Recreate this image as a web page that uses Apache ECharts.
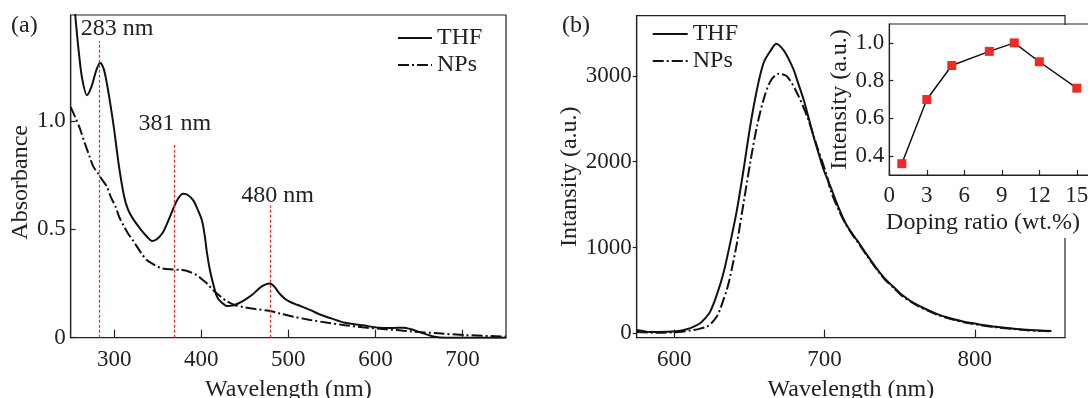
<!DOCTYPE html>
<html>
<head>
<meta charset="utf-8">
<script src="https://cdn.jsdelivr.net/npm/echarts@6/dist/echarts.min.js"></script>
<style>
  html, body { margin: 0; padding: 0; background: #fff; }
  #chart { width: 1088px; height: 398px; }
</style>
</head>
<body>
<div id="chart"></div>
<script>
// (a) absorbance, wavelength (nm) vs absorbance
const absThfX = [252, 255.2, 259, 263, 268.7, 274, 279, 283.8, 288, 291.7, 295.5, 299.6, 305.5, 311.5, 316, 321.4, 331.3, 338, 343.2, 348, 355.1, 361, 367, 373, 378.9, 384, 390.8, 396, 400.7, 404, 406.6, 410, 414.5, 418, 422.5, 430.4, 436, 442.3, 450, 458.1, 465, 470, 477.9, 483, 489.8, 496, 501.7, 510, 525.5, 537, 549.3, 565.1, 584.9, 604.8, 620, 632.5, 640, 650, 660.2, 668, 680, 750];
const absThfY = [1.62, 1.49, 1.33, 1.2, 1.12, 1.16, 1.23, 1.27, 1.24, 1.17, 1.08, 0.97, 0.79, 0.65, 0.59, 0.55, 0.496, 0.465, 0.447, 0.452, 0.481, 0.53, 0.588, 0.64, 0.665, 0.66, 0.634, 0.59, 0.542, 0.47, 0.389, 0.31, 0.235, 0.19, 0.166, 0.146, 0.148, 0.158, 0.175, 0.197, 0.222, 0.238, 0.25, 0.24, 0.204, 0.18, 0.166, 0.152, 0.127, 0.106, 0.089, 0.069, 0.058, 0.046, 0.045, 0.046, 0.04, 0.027, 0.013, 0.004, 0, 0];
const absNpX = [250, 255, 260, 266, 271.9, 276, 281.8, 286, 291.7, 296, 301.6, 306, 311.5, 316, 321.4, 331.3, 337, 343.2, 350, 355.1, 367, 375, 382.8, 389, 394.7, 400, 406.6, 414, 422.5, 430, 438.3, 450, 462.1, 477.9, 490, 505.7, 525, 545.3, 565, 584.9, 605, 624.6, 644.4, 672.1, 703.8, 750];
const absNpY = [1.065, 1.02, 0.972, 0.9, 0.834, 0.79, 0.757, 0.73, 0.696, 0.65, 0.604, 0.555, 0.512, 0.48, 0.45, 0.389, 0.36, 0.343, 0.328, 0.32, 0.315, 0.313, 0.309, 0.3, 0.289, 0.272, 0.25, 0.218, 0.189, 0.167, 0.151, 0.14, 0.132, 0.124, 0.112, 0.097, 0.082, 0.069, 0.058, 0.048, 0.041, 0.035, 0.028, 0.02, 0.012, 0.005];

// red guide lines and their labels
const peakLineX = [283, 369, 479];
const peakLineTop = [1.37, 0.89, 0.61];
const peakLabels = ['283 nm', '381 nm', '480 nm'];
const peakLabelX = [303.4, 369.7, 487.6];
const peakLabelY = [1.425, 0.99, 0.655];

// (b) emission, wavelength (nm) vs intensity
const plThfX = [575, 580, 584, 590, 599.4, 604, 608.3, 613, 617.2, 620.5, 623.9, 628.3, 632.7, 637.2, 641.7, 646.1, 650.5, 655, 659.4, 664, 668, 672.7, 676, 679.4, 682.7, 686.1, 689.4, 692.7, 696, 699.4, 703.9, 709, 714, 718.5, 723, 728, 734.5, 740, 746, 751, 757, 763, 769, 775, 780, 786, 792, 798, 803, 814, 826, 837, 851];
const plThfY = [41, 25, 17, 17, 21, 32, 49, 80, 119, 175, 254, 449, 701, 1051, 1439, 1906, 2410, 2838, 3149, 3290, 3372, 3300, 3200, 3071, 2900, 2721, 2510, 2294, 2100, 1906, 1711, 1480, 1282, 1160, 1050, 920, 760, 640, 540, 455, 380, 320, 270, 225, 195, 165, 140, 120, 105, 78, 55, 40, 28];
const plNpX = [575, 585, 592.7, 600, 605, 610.5, 616, 621.7, 625, 628.3, 630.5, 632.7, 635, 637.2, 641.7, 646.1, 650.5, 655, 659.4, 663.9, 669.4, 675, 681.7, 688.4, 695, 701.7, 703.9, 709, 714, 718.5, 723, 728, 734.5, 740, 746, 751, 757, 763, 769, 775, 780, 786, 792, 798, 803, 814, 826, 837, 851];
const plNpY = [15, 9, 9, 14, 20, 33, 50, 79, 125, 196, 280, 390, 510, 662, 1051, 1517, 1984, 2410, 2721, 2935, 3024, 2993, 2800, 2527, 2177, 1828, 1672, 1450, 1275, 1150, 1040, 910, 750, 630, 530, 445, 372, 312, 262, 218, 188, 158, 133, 113, 98, 72, 50, 35, 24];

// inset, doping ratio vs relative intensity
const dopingX = [1, 3, 5, 8, 10, 12, 15];
const dopingY = [0.36, 0.70, 0.88, 0.955, 1.0, 0.90, 0.76];

// tick labels
const absTicksX = [300, 400, 500, 600, 700];
const absTicksY = [0, 0.5, 1.0];
const plTicksX = [600, 700, 800];
const plTicksY = [0, 1000, 2000, 3000];
const insetTicksX = [0, 3, 6, 9, 12, 15];
const insetTicksY = [0.4, 0.6, 0.8, 1.0];

const zip = (xs, ys) => xs.map((x, i) => [x, ys[i]]);

const FONT = 'Liberation Serif';
const INK = '#222';
const RED = '#e62a2a';
const SOLID = {color: '#111', width: 2, type: 'solid'};
const DASHDOT = {color: '#111', width: 2, type: [11, 3, 2, 3]};
const nameStyle = (pad) => ({color: INK, fontSize: 24, fontFamily: FONT, padding: pad || 0});

function axisBase(ticks, fmt, inside, len, margin) {
  return {
    axisLine: {show: true, onZero: false, lineStyle: {color: INK, width: 1.2}},
    axisTick: {show: true, inside: inside, length: len, customValues: ticks, lineStyle: {color: INK, width: 1.2}},
    axisLabel: {customValues: ticks, formatter: fmt, margin: margin, color: INK, fontSize: 23, fontFamily: FONT},
    splitLine: {show: false},
    nameTextStyle: nameStyle()
  };
}

const chart = echarts.init(document.getElementById('chart'), null, {renderer: 'canvas'});

const legendBase = {
  orient: 'vertical', itemHeight: 14, itemGap: 3, padding: 0,
  data: ['THF', 'NPs'], selectedMode: false,
  itemStyle: {opacity: 0},
  textStyle: {color: INK, fontSize: 24, fontFamily: FONT}
};

const option = {
  animation: false,
  backgroundColor: '#fff',
  textStyle: {fontFamily: FONT, color: INK},
  grid: [
    {left: 70.7, top: 15, width: 435.3, height: 322.7, show: true, borderColor: INK, borderWidth: 1.2, outerBoundsMode: 'none'},
    {left: 636.7, top: 15.7, width: 428.3, height: 322, show: true, borderColor: INK, borderWidth: 1.2, outerBoundsMode: 'none'},
    {left: 889.3, top: 24, width: 212.5, height: 151, show: true, borderColor: INK, borderWidth: 1.2, z: 10, outerBoundsMode: 'none'}
  ],
  xAxis: [
    Object.assign(axisBase(absTicksX, v => String(v), true, 8, 11), {
      type: 'value', gridIndex: 0, min: 250, max: 750,
      name: 'Wavelength (nm)', nameLocation: 'middle', nameGap: 40
    }),
    Object.assign(axisBase(plTicksX, v => String(v), true, 8, 11), {
      type: 'value', gridIndex: 1, min: 575, max: 860,
      name: 'Wavelength (nm)', nameLocation: 'middle', nameGap: 40
    }),
    Object.assign(axisBase(insetTicksX, v => String(v), true, 5, 9), {
      type: 'value', gridIndex: 2, min: 0, max: 17, z: 10,
      name: 'Doping ratio (wt.%)', nameLocation: 'middle', nameGap: 36,
      nameTextStyle: nameStyle([0, 25, 0, 0])
    })
  ],
  yAxis: [
    Object.assign(axisBase(absTicksY, v => v === 0 ? '0' : v.toFixed(1), true, 5, 5), {
      type: 'value', gridIndex: 0, min: 0, max: 1.49,
      name: 'Absorbance', nameLocation: 'middle', nameGap: 38,
      nameTextStyle: nameStyle([0, 12, 0, 0])
    }),
    Object.assign(axisBase(plTicksY, v => String(v), false, 4, 5), {
      type: 'value', gridIndex: 1, min: -50, max: 3700,
      name: 'Intansity (a.u.)', nameLocation: 'middle', nameGap: 54
    }),
    Object.assign(axisBase(insetTicksY, v => v.toFixed(1), true, 4, 5), {
      type: 'value', gridIndex: 2, min: 0.3, max: 1.1, z: 10,
      name: 'Intensity (a.u.)', nameLocation: 'middle', nameGap: 35
    })
  ],
  legend: [
    Object.assign({}, legendBase, {left: 397, top: 26, itemWidth: 34}),
    Object.assign({}, legendBase, {left: 651.7, top: 22, itemWidth: 35})
  ],
  graphic: [
    {type: 'text', left: 11, top: 14, style: {text: '(a)', fill: INK, font: '24px "Liberation Serif"'}},
    {type: 'text', left: 562, top: 14, style: {text: '(b)', fill: INK, font: '24px "Liberation Serif"'}},
    {type: 'rect', z: 5, shape: {x: 856, y: 25, width: 232, height: 213}, style: {fill: '#fff'}}
  ],
  series: [
    {
      name: 'THF', type: 'line', xAxisIndex: 0, yAxisIndex: 0, showSymbol: false, symbol: 'none',
      smooth: 0.3, data: zip(absThfX, absThfY), lineStyle: SOLID, itemStyle: {color: '#111'},
      markLine: {
        silent: true, symbol: ['none', 'none'],
        lineStyle: {color: RED, width: 1.2, type: [3, 2]},
        label: {show: false},
        data: peakLineX.map((x, i) => [{coord: [x, 0]}, {coord: [x, peakLineTop[i]]}])
      }
    },
    {
      name: 'NPs', type: 'line', xAxisIndex: 0, yAxisIndex: 0, showSymbol: false, symbol: 'none',
      smooth: 0.3, data: zip(absNpX, absNpY), lineStyle: DASHDOT, itemStyle: {color: '#111'}
    },
    {
      type: 'scatter', xAxisIndex: 0, yAxisIndex: 0, symbolSize: 0, silent: true,
      itemStyle: {opacity: 1},
      data: peakLabelX.map((x, i) => [x, peakLabelY[i], peakLabels[i]]),
      label: {
        show: true, position: 'inside', formatter: p => p.data[2],
        color: INK, fontSize: 24, fontFamily: FONT
      }
    },
    {
      name: 'THF', type: 'line', xAxisIndex: 1, yAxisIndex: 1, showSymbol: false, symbol: 'none',
      smooth: 0.3, data: zip(plThfX, plThfY), lineStyle: SOLID, itemStyle: {color: '#111'}
    },
    {
      name: 'NPs', type: 'line', xAxisIndex: 1, yAxisIndex: 1, showSymbol: false, symbol: 'none',
      smooth: 0.3, data: zip(plNpX, plNpY), lineStyle: DASHDOT, itemStyle: {color: '#111'}
    },
    {
      type: 'line', xAxisIndex: 2, yAxisIndex: 2, z: 10, symbol: 'rect', symbolSize: 9,
      data: zip(dopingX, dopingY),
      lineStyle: {color: '#111', width: 1.5},
      itemStyle: {color: '#ee2b26'}
    }
  ]
};

chart.setOption(option);
</script>
</body>
</html>
